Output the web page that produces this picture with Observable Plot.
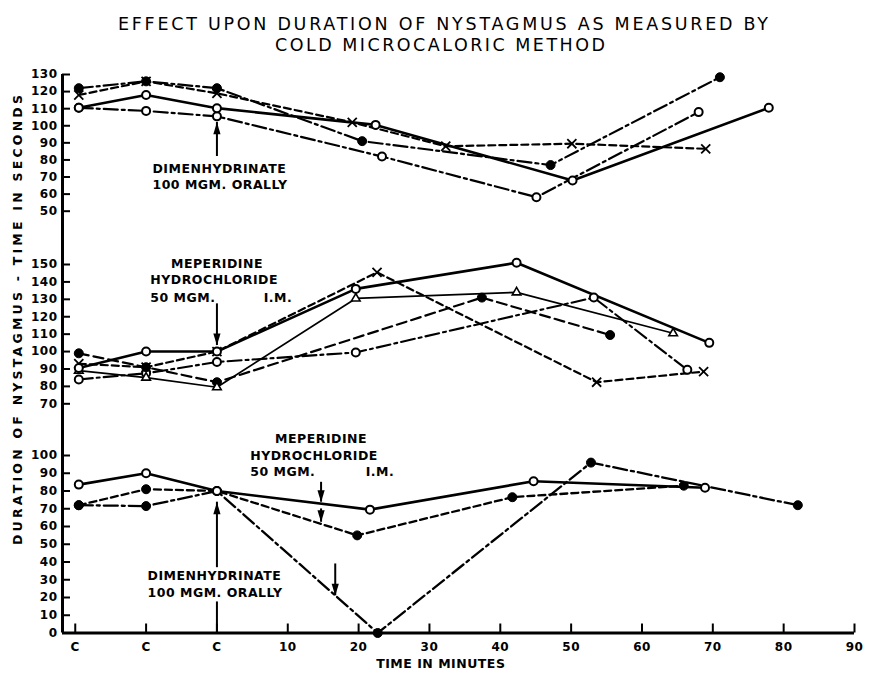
<!DOCTYPE html>
<html>
<head>
<meta charset="utf-8">
<script src="https://cdn.jsdelivr.net/npm/d3@7"></script>
<script src="https://cdn.jsdelivr.net/npm/@observablehq/plot@0.6"></script>
<style>
  body { margin: 0; background: #fff; }
  #chart { position: relative; width: 872px; height: 676px; background: #fff; overflow: hidden; }
  #chart svg.panel { position: absolute; left: 0; }
  #labels { position: absolute; left: 0; top: 0; pointer-events: none; }
</style>
</head>
<body>
<div id="chart"></div>
<script>
// ---------------- DATA ----------------
const titleLine1 = "EFFECT UPON DURATION OF NYSTAGMUS AS MEASURED BY";
const titleLine2 = "COLD MICROCALORIC METHOD";
const yTitle = "DURATION OF NYSTAGMUS - TIME IN SECONDS";
const xTitle = "TIME IN MINUTES";

const xTickValues = [-20, -10, 0, 10, 20, 30, 40, 50, 60, 70, 80, 90];
const xTickLabels = ["C", "C", "C", "10", "20", "30", "40", "50", "60", "70", "80", "90"];
const topTicks = [50, 60, 70, 80, 90, 100, 110, 120, 130];
const midTicks = [70, 80, 90, 100, 110, 120, 130, 140, 150];
const botTicks = [0, 10, 20, 30, 40, 50, 60, 70, 80, 90, 100];

// Top panel (dimenhydrinate 100 mgm orally)
const topFilledMin = [-19.5, -10, 0, 20.5, 47.1, 71];
const topFilledSec = [122, 126, 122, 91, 77, 128.4];
const topCrossMin = [-19.5, -10, 0, 19.1, 32.3, 50.1, 69];
const topCrossSec = [118, 126, 119, 102, 88, 89.5, 86.5];
const topOpenSolidMin = [-19.5, -10, 0, 22.4, 50.2, 77.9];
const topOpenSolidSec = [110.5, 118, 110.3, 100.5, 68, 110.5];
const topOpenDashDotMin = [-19.5, -10, 0, 23.3, 45.1, 68];
const topOpenDashDotSec = [110.5, 108.7, 105.5, 82, 58.2, 108];

// Middle panel (meperidine hydrochloride 50 mgm I.M.)
const midOpenSolidMin = [-19.5, -10, 0, 19.6, 42.3, 69.5];
const midOpenSolidSec = [90.5, 100, 100, 136, 151, 105];
const midTriangleMin = [-19.5, -10, 0, 19.6, 42.3, 64.4];
const midTriangleSec = [89, 85, 79.5, 130.5, 134, 110.5];
const midCrossMin = [-19.5, -10, 0, 22.6, 53.6, 68.7];
const midCrossSec = [93, 91, 100, 145.5, 82.4, 88.5];
const midFilledMin = [-19.5, -10, 0, 37.4, 55.5];
const midFilledSec = [99, 91, 82.4, 131, 109.5];
const midOpenDashDotMin = [-19.5, -10, 0, 19.6, 53.2, 66.4];
const midOpenDashDotSec = [84, 87.5, 94, 99.5, 131, 89.5];

// Bottom panel (dimenhydrinate then meperidine)
const botOpenSolidMin = [-19.5, -10, 0, 21.6, 44.7, 68.9];
const botOpenSolidSec = [83.6, 90, 80, 69.5, 85.5, 81.8];
const botFilledDashMin = [-19.5, -10, 0, 19.8, 41.7, 65.9];
const botFilledDashSec = [72, 81, 80, 55, 76.5, 83];
const botFilledDashDotMin = [-19.5, -10, 0, 22.7, 52.8, 82];
const botFilledDashDotSec = [72, 71.5, 80, 0, 96, 72];

// Annotations (text and arrows, in data units)
const topNoteText = ["DIMENHYDRINATE", "100 MGM. ORALLY"];
const topNoteMin = [-9.1, -9.1];
const topNoteSec = [74.8, 65.4];
const topArrowMin = [0];
const topArrowFrom = [82];
const topArrowTo = [102];

const midNoteText = ["MEPERIDINE", "HYDROCHLORIDE", "50 MGM.", "I.M."];
const midNoteMin = [0, -9.4, -9.4, 6.6];
const midNoteSec = [150.4, 141.2, 130.6, 130.6];
const midArrowMin = [0];
const midArrowFrom = [127.4];
const midArrowTo = [103.5];

const botNoteText = ["MEPERIDINE", "HYDROCHLORIDE", "50 MGM.", "I.M.", "DIMENHYDRINATE", "100 MGM. ORALLY"];
const botNoteMin = [14.7, 4.7, 4.7, 21, -9.8, -9.8];
const botNoteSec = [109.4, 100, 90.6, 90.6, 32.3, 22.3];
const botArrowMin = [14.7, 14.7, 16.7, 0];
const botArrowFrom = [84.9, 69.9, 38.9, 36.8];
const botArrowTo = [73.7, 62.4, 21, 73.7];
const botShaftMin = [0];
const botShaftFrom = [0];
const botShaftTo = [17.5];

// ---------------- LAYOUT / STYLE ----------------
const W = 872, ML = 62, MR = 18;
const X_DOMAIN = [-21.8, 90];
const PPU_X = (W - ML - MR) / (X_DOMAIN[1] - X_DOMAIN[0]);
const DASH = {solid: "none", dashed: "7,4", dashDot: "14,4,3,4", longDash: "10,5"};

const rows = (min, sec) => min.map((m, i) => ({min: m, sec: sec[i]}));
const notes = (t, min, sec) => t.map((s, i) => ({t: s, min: min[i], sec: sec[i]}));
const arrows = (min, from, to) => min.map((m, i) => ({min: m, from: from[i], to: to[i]}));

const headUp = {draw(c) { c.moveTo(0, 0); c.lineTo(3.6, 12); c.lineTo(-3.6, 12); c.closePath(); }};
const headDown = {draw(c) { c.moveTo(0, 0); c.lineTo(3.6, -12); c.lineTo(-3.6, -12); c.closePath(); }};

function markerMark(data, kind) {
  const base = {x: "min", y: "sec", stroke: "black"};
  if (kind === "open") return Plot.dot(data, {...base, r: 4, fill: "white", strokeWidth: 2});
  if (kind === "filled") return Plot.dot(data, {...base, r: 4.5, fill: "black", strokeWidth: 1});
  if (kind === "cross") return Plot.dot(data, {...base, symbol: "times", r: 4.2, strokeWidth: 1.8});
  return Plot.dot(data, {...base, symbol: "triangle", r: 3.2, fill: "white", strokeWidth: 1.6});
}

const panels = [
  {
    top: 60, height: 175, mt: 14, mb: 24.3, domain: [50, 130], ticks: topTicks, axisFromTick: true,
    series: [
      {data: rows(topOpenDashDotMin, topOpenDashDotSec), marker: "open", dash: "dashDot", w: 2.2},
      {data: rows(topCrossMin, topCrossSec), marker: "cross", dash: "dashed", w: 2.2},
      {data: rows(topFilledMin, topFilledSec), marker: "filled", dash: "dashDot", w: 2.2},
      {data: rows(topOpenSolidMin, topOpenSolidSec), marker: "open", dash: "solid", w: 2.6}
    ],
    notes: notes(topNoteText, topNoteMin, topNoteSec), center: [],
    arrows: arrows(topArrowMin, topArrowFrom, topArrowTo), shafts: []
  },
  {
    top: 235, height: 190, mt: 29, mb: 21.7, domain: [70, 150], ticks: midTicks,
    series: [
      {data: rows(midOpenDashDotMin, midOpenDashDotSec), marker: "open", dash: "dashDot", w: 2.1},
      {data: rows(midFilledMin, midFilledSec), marker: "filled", dash: "longDash", w: 2.2},
      {data: rows(midCrossMin, midCrossSec), marker: "cross", dash: "dashed", w: 2.2},
      {data: rows(midTriangleMin, midTriangleSec), marker: "triangle", dash: "solid", w: 1.7},
      {data: rows(midOpenSolidMin, midOpenSolidSec), marker: "open", dash: "solid", w: 2.6}
    ],
    notes: notes(midNoteText, midNoteMin, midNoteSec), center: ["MEPERIDINE"],
    arrows: arrows(midArrowMin, midArrowFrom, midArrowTo), shafts: []
  },
  {
    top: 425, height: 251, mt: 30, mb: 43.5, domain: [0, 100], ticks: botTicks, xAxis: true,
    series: [
      {data: rows(botFilledDashDotMin, botFilledDashDotSec), marker: "filled", dash: "dashDot", w: 2.3},
      {data: rows(botFilledDashMin, botFilledDashSec), marker: "filled", dash: "dashed", w: 2.3},
      {data: rows(botOpenSolidMin, botOpenSolidSec), marker: "open", dash: "solid", w: 2.6}
    ],
    notes: notes(botNoteText, botNoteMin, botNoteSec), center: ["MEPERIDINE"],
    arrows: arrows(botArrowMin, botArrowFrom, botArrowTo), shafts: arrows(botShaftMin, botShaftFrom, botShaftTo)
  }
];

function buildPanel(p) {
  const ppuY = (p.height - p.mt - p.mb) / (p.domain[1] - p.domain[0]);
  const topVal = p.domain[1] + p.mt / ppuY;
  const botVal = p.domain[0] - p.mb / ppuY;
  const marks = [];
  // vertical axis line
  marks.push(Plot.ruleX([X_DOMAIN[0]], {
    y1: p.axisFromTick ? p.domain[1] : topVal,
    y2: p.xAxis ? p.domain[0] : botVal,
    strokeWidth: 3
  }));
  // inward y ticks + labels
  marks.push(Plot.ruleY(p.ticks, {x1: X_DOMAIN[0], x2: X_DOMAIN[0] + 8 / PPU_X, strokeWidth: 2}));
  marks.push(Plot.axisY(p.ticks, {tickSize: 0, tickPadding: 5, label: null, fontSize: 12, fontWeight: "bold"}));
  if (p.xAxis) {
    marks.push(Plot.ruleY([0], {x1: X_DOMAIN[0], x2: X_DOMAIN[1], strokeWidth: 3}));
    marks.push(Plot.ruleX(xTickValues, {y1: 0, y2: 9 / ppuY, strokeWidth: 2}));
    marks.push(Plot.axisX(xTickValues, {
      tickSize: 0, tickPadding: 9, label: null, fontSize: 12, fontWeight: "bold",
      tickFormat: d => xTickLabels[xTickValues.indexOf(d)]
    }));
    marks.push(Plot.text([{t: xTitle, min: 31.6, sec: 0}], {
      x: "min", y: "sec", text: "t", dy: 31, fontSize: 12.5, fontWeight: "bold"
    }));
  }
  // series lines
  for (const s of p.series) {
    marks.push(Plot.line(s.data, {
      x: "min", y: "sec", stroke: "black", strokeWidth: s.w,
      strokeDasharray: DASH[s.dash], strokeLinejoin: "round"
    }));
  }
  // markers
  for (const s of p.series) marks.push(markerMark(s.data, s.marker));
  // annotation texts
  const startNotes = p.notes.filter(n => !p.center.includes(n.t));
  const centerNotes = p.notes.filter(n => p.center.includes(n.t));
  marks.push(Plot.text(startNotes, {x: "min", y: "sec", text: "t", textAnchor: "start", fontSize: 12.5, fontWeight: "bold"}));
  marks.push(Plot.text(centerNotes, {x: "min", y: "sec", text: "t", textAnchor: "middle", fontSize: 12.5, fontWeight: "bold"}));
  // arrows
  for (const a of [p.shafts, p.arrows]) {
    marks.push(Plot.ruleX(a, {x: "min", y1: "from", y2: "to", strokeWidth: 2}));
  }
  const ups = p.arrows.filter(a => a.to > a.from);
  const downs = p.arrows.filter(a => a.to < a.from);
  marks.push(Plot.dot(ups, {x: "min", y: "to", symbol: headUp, fill: "black", r: 5}));
  marks.push(Plot.dot(downs, {x: "min", y: "to", symbol: headDown, fill: "black", r: 5}));

  const svg = Plot.plot({
    width: W, height: p.height,
    marginLeft: ML, marginRight: MR, marginTop: p.mt, marginBottom: p.mb,
    x: {domain: X_DOMAIN, axis: p.xAxis ? undefined : null},
    y: {domain: p.domain},
    style: {fontFamily: "DejaVu Sans", fontWeight: "bold", fontSize: "12px", letterSpacing: "0.5px", background: "transparent", color: "black", overflow: "visible"},
    marks
  });
  svg.classList.add("panel");
  svg.style.top = p.top + "px";
  return svg;
}

const chart = document.getElementById("chart");
for (const p of panels) chart.appendChild(buildPanel(p));

// titles (real text)
const ns = "http://www.w3.org/2000/svg";
const lab = document.createElementNS(ns, "svg");
lab.setAttribute("id", "labels");
lab.setAttribute("width", 872);
lab.setAttribute("height", 676);
function addText(str, attrs) {
  const t = document.createElementNS(ns, "text");
  for (const k in attrs) t.setAttribute(k, attrs[k]);
  t.textContent = str;
  lab.appendChild(t);
}
addText(titleLine1, {x: 443, y: 30, "text-anchor": "middle", "font-family": "DejaVu Sans", "font-size": 17.5,
  textLength: 650, lengthAdjust: "spacing"});
addText(titleLine2, {x: 440, y: 51, "text-anchor": "middle", "font-family": "DejaVu Sans", "font-size": 17.5,
  textLength: 330, lengthAdjust: "spacing"});
addText(yTitle, {transform: "translate(17,320) rotate(-90)", "text-anchor": "middle", "dominant-baseline": "central",
  "font-family": "DejaVu Sans", "font-weight": "bold", "font-size": 12.5, textLength: 450, lengthAdjust: "spacing"});
chart.appendChild(lab);
</script>
</body>
</html>
